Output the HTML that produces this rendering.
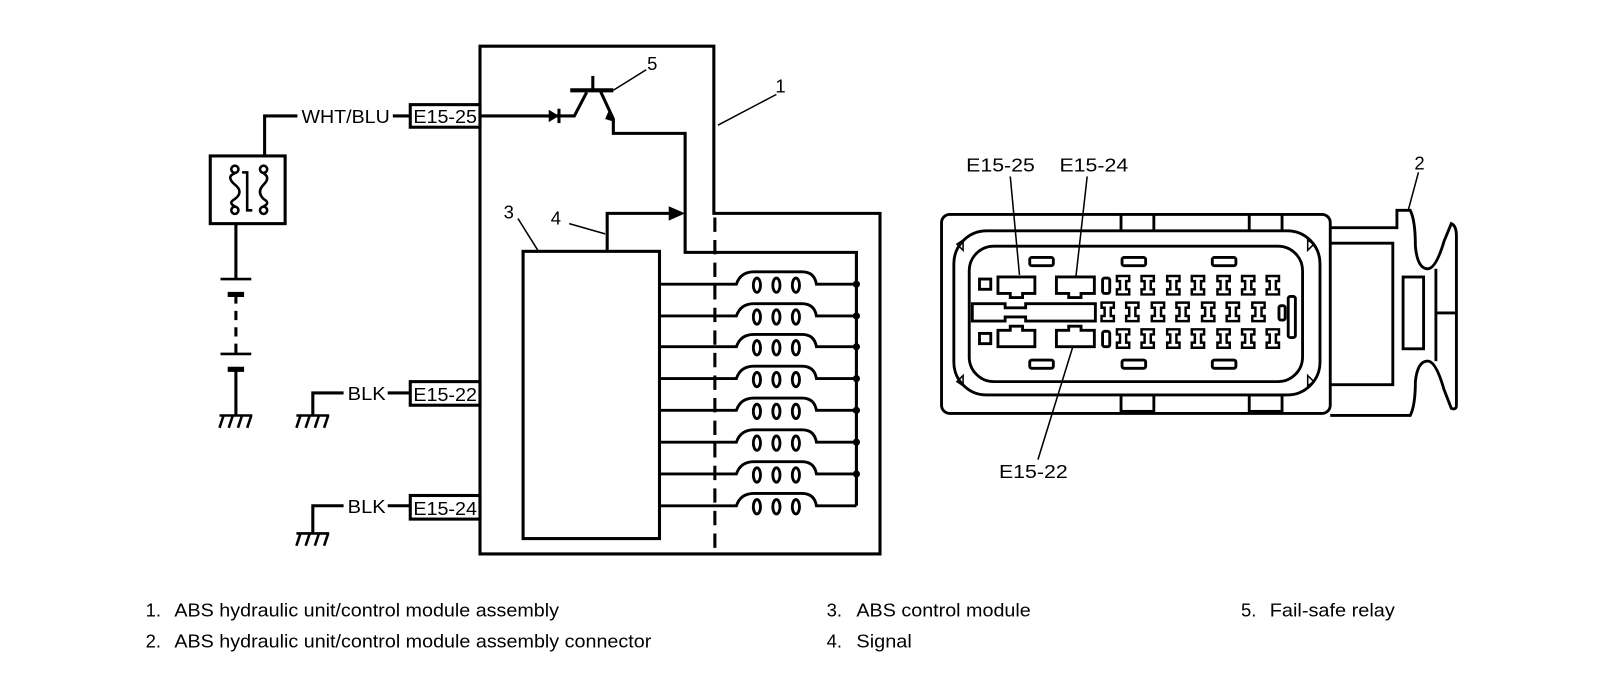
<!DOCTYPE html>
<html><head><meta charset="utf-8"><style>
html,body{margin:0;padding:0;background:#fff;width:1600px;height:674px;overflow:hidden}
svg{display:block}
text{font-family:"Liberation Sans",Arial,sans-serif;fill:#000}
</style></head><body>
<svg width="1600" height="674" viewBox="0 0 1560 657" preserveAspectRatio="none" xmlns="http://www.w3.org/2000/svg">
<defs>
<g id="pin"><path d="M-6,-9 H6 V-4 H3 V4 H6 V9 H-6 V4 H-3 V-4 H-6 Z" fill="none" stroke="#000" stroke-width="2.4"/></g>
<g id="coil" fill="none" stroke="#000" stroke-width="2.8">
<path d="M643,0 H718 Q722,-12 735,-12 H782 Q794,-12 796,0 H835"/>
<ellipse cx="738" cy="1" rx="3.5" ry="7"/><ellipse cx="757" cy="1" rx="3.5" ry="7"/><ellipse cx="776" cy="1" rx="3.5" ry="7"/>
</g>
<g id="gnd" fill="none" stroke="#000" stroke-width="2.5">
<path d="M-16,0 H16 M-12,0 L-16,12 M-3,0 L-7,12 M6,0 L2,12 M15,0 L11,12"/>
</g>
</defs>
<g fill="none" stroke="#000" stroke-width="3">
<path d="M468,45 H696 V208 H858 V540 H468 Z"/>
<path d="M757,92 L700,122" stroke-width="1.5"/>
<path d="M258,152 V113 H290"/>
<path d="M383,113 H400"/>
<rect x="205" y="152" width="73" height="66"/>
<path d="M230,218 V272"/>
<path d="M215,272 H245" stroke-width="2.5"/>
<path d="M222,287 H238" stroke-width="5"/>
<path d="M230,287 V345" stroke-dasharray="9,7"/>
<path d="M215,345 H245" stroke-width="2.5"/>
<path d="M222,360 H238" stroke-width="5"/>
<path d="M230,360 V405"/>
<path d="M468,113 H545"/>
<path d="M545,106 V120"/>
<path d="M545,113 H560 L572,90"/>
<path d="M556,88 H598" stroke-width="4"/>
<path d="M578,74 V88"/>
<path d="M585,88 L598,116 V130 H668 V246 H835 V493"/>
<path d="M630,68 L598,88" stroke-width="1.5"/>
<rect x="510" y="245" width="133" height="280"/>
<path d="M592,245 V208 H660"/>
<path d="M505,213 L525,245" stroke-width="1.5"/>
<path d="M555,218 L590,228" stroke-width="1.5"/>
<path d="M697,212 V540" stroke-dasharray="14,8"/>
<path d="M305,405 V383 H335"/><path d="M378,383 H400"/>
<path d="M305,520 V493 H335"/><path d="M378,493 H400"/>
<rect x="400" y="102" width="68" height="22"/>
<rect x="400" y="372" width="68" height="23"/>
<rect x="400" y="483" width="68" height="23"/>
</g>
<g fill="none" stroke="#000" stroke-width="2.5">
<circle cx="229" cy="165" r="3.5"/><circle cx="257" cy="165" r="3.5"/>
<circle cx="229" cy="205" r="3.5"/><circle cx="257" cy="205" r="3.5"/>
<path d="M229,169 Q220,172 229,180 Q238,187 229,194 Q222,198 229,201"/>
<path d="M257,169 Q264,173 257,180 Q250,187 257,194 Q264,198 257,201"/>
<path d="M236,168 H241 V205 H246"/>
</g>
<use href="#gnd" x="230" y="405"/>
<use href="#gnd" x="305" y="405"/>
<use href="#gnd" x="305" y="520"/>
<polygon points="535,107 545,113 535,119" fill="#000"/>
<polygon points="593,109 600,119 590,116" fill="#000"/>
<polygon points="652,201 668,208 652,215" fill="#000"/>
<g>
<use href="#coil" y="277"/><use href="#coil" y="308"/><use href="#coil" y="338"/><use href="#coil" y="369"/>
<use href="#coil" y="400"/><use href="#coil" y="431"/><use href="#coil" y="462"/><use href="#coil" y="493"/>
</g>
<g fill="#000">
<circle cx="835" cy="277" r="3.5"/><circle cx="835" cy="308" r="3.5"/><circle cx="835" cy="338" r="3.5"/><circle cx="835" cy="369" r="3.5"/>
<circle cx="835" cy="400" r="3.5"/><circle cx="835" cy="431" r="3.5"/><circle cx="835" cy="462" r="3.5"/>
</g>
<g font-size="18">
<text x="294" y="120" textLength="86" lengthAdjust="spacingAndGlyphs">WHT/BLU</text>
<text x="403" y="120" textLength="62" lengthAdjust="spacingAndGlyphs">E15-25</text>
<text x="339" y="390" textLength="37" lengthAdjust="spacingAndGlyphs">BLK</text>
<text x="403" y="391" textLength="62" lengthAdjust="spacingAndGlyphs">E15-22</text>
<text x="339" y="500" textLength="37" lengthAdjust="spacingAndGlyphs">BLK</text>
<text x="403" y="502" textLength="62" lengthAdjust="spacingAndGlyphs">E15-24</text>
<text x="756" y="90">1</text>
<text x="631" y="68">5</text>
<text x="491" y="213">3</text>
<text x="537" y="219">4</text>
</g>
<g fill="none" stroke="#000" stroke-width="2.8">
<rect x="918" y="209" width="379" height="194" rx="8"/>
<path d="M1093,209 V225 M1125,209 V225 M1218,209 V225 M1250,209 V225"/>
<rect x="1093" y="385" width="32" height="16"/>
<rect x="1218" y="385" width="32" height="16"/>
<rect x="930" y="225" width="357" height="160" rx="32"/>
<rect x="945" y="240" width="325" height="132" rx="24"/>
<path d="M933,238 l6,-4 v10 z M1281,238 l-6,-4 v10 z M933,372 l6,4 v-10 z M1281,372 l-6,4 v-10 z" stroke-width="1.5"/>
<rect x="955" y="272" width="11" height="10"/>
<rect x="955" y="325" width="11" height="10"/>
<path d="M973,270 H1009 V286 H997 V290 H985 V286 H973 Z"/>
<path d="M1030,270 H1067 V286 H1054 V290 H1042 V286 H1030 Z"/>
<path d="M973,338 H1009 V322 H997 V318 H985 V322 H973 Z"/>
<path d="M1030,338 H1067 V322 H1054 V318 H1042 V322 H1030 Z"/>
<path d="M948,296 H980 V300 H1000 V296 H1068 V313 H1000 V309 H980 V313 H948 Z"/>
<rect x="1004" y="251" width="23" height="8" rx="2"/><rect x="1094" y="251" width="23" height="8" rx="2"/><rect x="1182" y="251" width="23" height="8" rx="2"/>
<rect x="1004" y="351" width="23" height="8" rx="2"/><rect x="1094" y="351" width="23" height="8" rx="2"/><rect x="1182" y="351" width="23" height="8" rx="2"/>
<rect x="1075" y="271" width="7" height="15" rx="2"/><rect x="1075" y="323" width="7" height="15" rx="2"/>
<rect x="1247" y="298" width="6" height="14" rx="2"/>
<rect x="1256" y="289" width="7" height="40" rx="2"/>
<path d="M1297,222 H1362 V205 H1375 Q1380,215 1380,240 Q1382,262 1392,262 Q1400,262 1408,235 L1415,218 Q1420,220 1420,230 V395 Q1420,400 1415,398 L1408,380 Q1400,352 1392,352 Q1382,352 1380,372 Q1380,395 1375,405 H1297"/>
<path d="M1298,237 H1358 V375 H1298"/>
<path d="M1400,262 V352 M1400,305 H1420"/>
<rect x="1368" y="270" width="20" height="70"/>
</g>
<g>
<use href="#pin" x="1095" y="278"/><use href="#pin" x="1119" y="278"/><use href="#pin" x="1144" y="278"/><use href="#pin" x="1168" y="278"/><use href="#pin" x="1193" y="278"/><use href="#pin" x="1217" y="278"/><use href="#pin" x="1241" y="278"/>
<use href="#pin" x="1080" y="304"/><use href="#pin" x="1104" y="304"/><use href="#pin" x="1129" y="304"/><use href="#pin" x="1153" y="304"/><use href="#pin" x="1178" y="304"/><use href="#pin" x="1202" y="304"/><use href="#pin" x="1227" y="304"/>
<use href="#pin" x="1095" y="330"/><use href="#pin" x="1119" y="330"/><use href="#pin" x="1144" y="330"/><use href="#pin" x="1168" y="330"/><use href="#pin" x="1193" y="330"/><use href="#pin" x="1217" y="330"/><use href="#pin" x="1241" y="330"/>
</g>
<g stroke="#000" stroke-width="1.5">
<line x1="985" y1="172" x2="994" y2="268"/>
<line x1="1060" y1="172" x2="1049" y2="270"/>
<line x1="1012" y1="448" x2="1046" y2="338"/>
<line x1="1383" y1="168" x2="1373" y2="205"/>
</g>
<g font-size="18">
<text x="942" y="167" textLength="67" lengthAdjust="spacingAndGlyphs">E15-25</text>
<text x="1033" y="167" textLength="67" lengthAdjust="spacingAndGlyphs">E15-24</text>
<text x="974" y="466" textLength="67" lengthAdjust="spacingAndGlyphs">E15-22</text>
<text x="1379" y="165">2</text>
</g>
<g font-size="18">
<text x="142" y="601">1.</text><text x="170" y="601" textLength="375" lengthAdjust="spacingAndGlyphs">ABS hydraulic unit/control module assembly</text>
<text x="142" y="631">2.</text><text x="170" y="631" textLength="465" lengthAdjust="spacingAndGlyphs">ABS hydraulic unit/control module assembly connector</text>
<text x="806" y="601">3.</text><text x="835" y="601" textLength="170" lengthAdjust="spacingAndGlyphs">ABS control module</text>
<text x="806" y="631">4.</text><text x="835" y="631" textLength="54" lengthAdjust="spacingAndGlyphs">Signal</text>
<text x="1210" y="601">5.</text><text x="1238" y="601" textLength="122" lengthAdjust="spacingAndGlyphs">Fail-safe relay</text>
</g>
</svg>
</body></html>
